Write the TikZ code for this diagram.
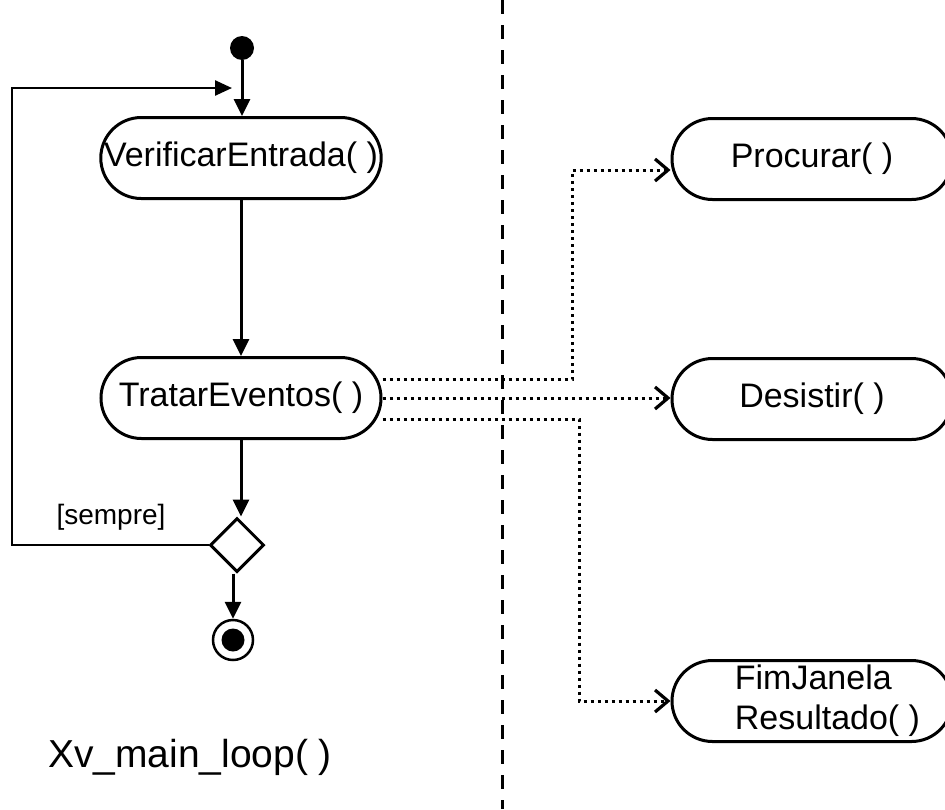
\documentclass[tikz,border=0pt]{standalone}
\usepackage{fontspec}
\setmainfont{Liberation Sans}
\usetikzlibrary{shapes.misc,shapes.geometric,arrows.meta,calc}
\begin{document}
\begin{tikzpicture}[x=1pt,y=-1pt,
  pill/.style={rounded rectangle,draw,line width=3pt,minimum width=280pt,minimum height=81pt,inner sep=0pt,font=\fontsize{34}{40}\selectfont},
  solidconn/.style={line width=3pt,-{Triangle[length=17pt,width=16pt]}},
  loopconn/.style={line width=2.5pt,-{Triangle[length=17pt,width=15pt]}},
  dotconn/.style={line width=3pt,dash pattern=on 3pt off 4pt,-{Straight Barb[length=13pt,width=22pt,line width=3.2pt]}},
  sep/.style={line width=3pt,dash pattern=on 14pt off 11pt}
]
\useasboundingbox (0,0) rectangle (945,809);
% swimlane separator
\coordinate (s1) at (502,0);
\coordinate (s2) at (502,809);
\draw[sep] (s1) -- (s2);
% left lane
\node[circle,fill=black,minimum size=24pt,inner sep=0pt] (init) at (242,48) {};
\node[pill] (v) at (241,158) {VerificarEntrada( )};
\node[pill] (t) at (241,398) {TratarEventos( )};
\node[diamond,draw,line width=3pt,minimum width=54pt,minimum height=54pt,inner sep=0pt] (d) at (237,545) {};
\node[circle,draw,line width=2.5pt,minimum size=40pt,inner sep=0pt] (f) at (233,640) {};
\node[circle,fill=black,minimum size=23pt,inner sep=0pt] (fi) at (f) {};
\node[anchor=base,font=\fontsize{28}{32}\selectfont] (g) at (111,524) {[sempre]};
\node[anchor=base,font=\fontsize{39}{44}\selectfont] (title) at (190,767) {Xv\_main\_loop( )};
% right lane
\node[pill] (p) at (812,159) {Procurar( )};
\node[pill] (de) at (812,399) {Desistir( )};
\node[pill,align=left] (fj) at (812,701) {\hspace*{31pt}FimJanela\\\hspace*{31pt}Resultado( )};
% connectors
\draw[solidconn] (init) -- (init |- v.north);
\draw[solidconn] (v.south) -- (t.north);
\draw[solidconn] (t.south) -- (t.south |- d.north);
\draw[solidconn] (f.north |- d.south) -- (f.north);
\coordinate (c1) at (12,545);
\coordinate (lp) at (232,88);
\draw[loopconn] (d.west) -- (c1) |- (lp);
\draw[dotconn] ($(t.east)+(0,-19)$) -| (572,170) -- ($(p.west)+(0,11)$);
\draw[dotconn] (t.east) -- (t.east -| de.west);
\draw[dotconn] ($(t.east)+(0,21)$) -| (579,701) -- (fj.west);
\end{tikzpicture}
\end{document}
